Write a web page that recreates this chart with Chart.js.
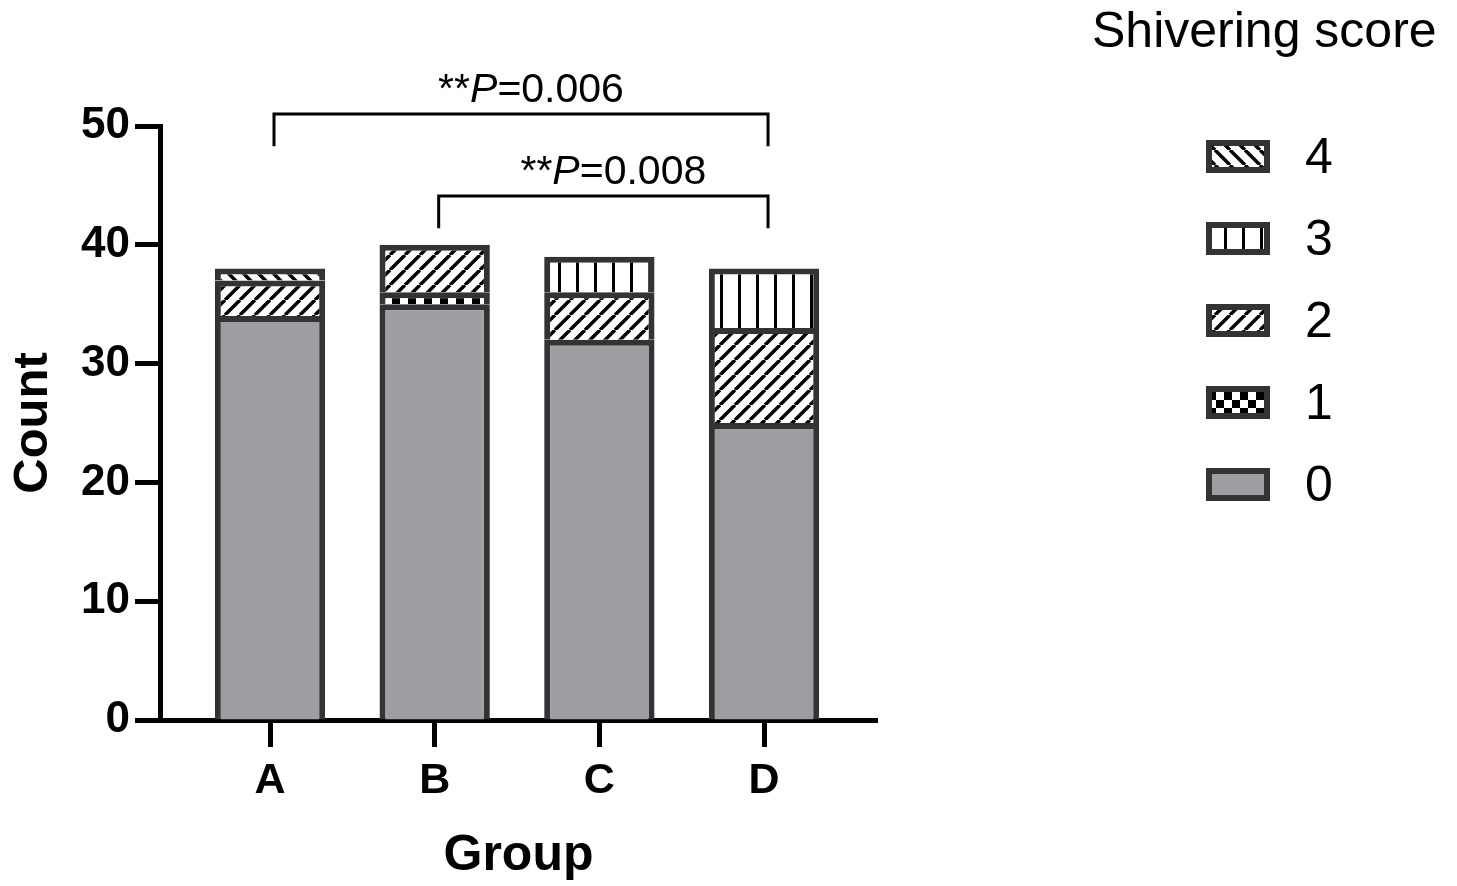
<!DOCTYPE html>
<html>
<head>
<meta charset="utf-8">
<title>Shivering score</title>
<script src="https://cdn.jsdelivr.net/npm/chart.js@4.4.1/dist/chart.umd.min.js"></script>
<style>
  html, body { margin: 0; padding: 0; background: #ffffff; }
  #wrap { width: 1457px; height: 886px; }
</style>
</head>
<body>
<div id="wrap">
  <canvas id="shiverChart" width="1457" height="886"></canvas>
</div>
<script>
/* =========================
DATA
========================= */

const groups = ["A", "B", "C", "D"];

const score0 = [34, 35, 32, 25];
const score1 = [0, 1, 0, 0];
const score2 = [3, 4, 4, 8];
const score3 = [0, 0, 3, 5];
const score4 = [1, 0, 0, 0];

const scoreLabels = ["0", "1", "2", "3", "4"];

const yTicks = [0, 10, 20, 30, 40, 50];

// significance pairs (group index from, to) and p values
const sigPairs = [[0, 3], [1, 3]];
const sigPValues = ["0.006", "0.008"];

/* =========================
STYLE
========================= */

const FONT = "'Liberation Sans', Arial, Helvetica, sans-serif";
const EDGE = "#333333";
const GREY = "#9e9ea2";

function makePattern(kind){

  const tile = document.createElement("canvas");
  const c = tile.getContext("2d");
  let s = 15;

  if(kind === "checker"){ s = 16; }
  if(kind === "vlines"){ s = 18; }

  tile.width = s;
  tile.height = s;

  c.fillStyle = "#ffffff";
  c.fillRect(0, 0, s, s);
  c.strokeStyle = "#000000";
  c.fillStyle = "#000000";

  if(kind === "slash" || kind === "backslash"){
    c.lineWidth = 3.5;
    c.beginPath();
    for(let k = -1; k <= 1; k++){
      if(kind === "slash"){
        c.moveTo(k * s, s);
        c.lineTo(k * s + s, 0);
      }else{
        c.moveTo(k * s, 0);
        c.lineTo(k * s + s, s);
      }
    }
    c.stroke();
  }

  if(kind === "vlines"){
    c.fillRect(0, 0, 3, s);
  }

  if(kind === "checker"){
    c.fillRect(0, 0, s / 2, s / 2);
    c.fillRect(s / 2, s / 2, s / 2, s / 2);
  }

  return c.createPattern(tile, "repeat");
}

const fills = [
  GREY,
  makePattern("checker"),
  makePattern("slash"),
  makePattern("vlines"),
  makePattern("backslash")
];

const seriesValues = [score0, score1, score2, score3, score4];

/* =========================
DATASETS
========================= */

const datasets = seriesValues.map(function(values, i){
  return {
    label: scoreLabels[i],
    data: values.map(function(v, j){ return { x: j, y: v }; }),
    backgroundColor: fills[i],
    borderColor: EDGE,
    borderWidth: { top: 6, left: 6, right: 6, bottom: 0 },
    borderSkipped: false,
    barPercentage: 0.67,
    categoryPercentage: 1
  };
});

/* =========================
PLUGIN : brackets + legend
========================= */

const extrasPlugin = {

  id: "extras",

  afterDraw(chart){

    const ctx = chart.ctx;
    const xs = chart.scales.x;
    const ys = chart.scales.y;

    ctx.save();

    // significance brackets
    const levels = [[51, 48.3], [44.1, 41.4]];

    sigPairs.forEach(function(pair, i){

      const x1 = xs.getPixelForValue(pair[0]) + 4;
      const x2 = xs.getPixelForValue(pair[1]) + 4;
      const yTop = ys.getPixelForValue(levels[i][0]);
      const yEnd = ys.getPixelForValue(levels[i][1]);

      ctx.strokeStyle = "#000000";
      ctx.lineWidth = 3;
      ctx.lineCap = "butt";
      ctx.lineJoin = "miter";
      ctx.beginPath();
      ctx.moveTo(x1, yEnd);
      ctx.lineTo(x1, yTop);
      ctx.lineTo(x2, yTop);
      ctx.lineTo(x2, yEnd);
      ctx.stroke();

      // label: **P=value with italic P
      const partA = "**";
      const partB = "P";
      const partC = "=" + sigPValues[i];

      ctx.fillStyle = "#000000";
      ctx.textBaseline = "alphabetic";
      ctx.textAlign = "left";

      ctx.font = "41px " + FONT;
      const wA = ctx.measureText(partA).width;
      const wC = ctx.measureText(partC).width;
      ctx.font = "italic 41px " + FONT;
      const wB = ctx.measureText(partB).width;

      const total = wA + wB + wC;
      let tx = (x1 + x2) / 2 + 10 - total / 2;
      const ty = yTop - 12;

      ctx.font = "41px " + FONT;
      ctx.fillText(partA, tx, ty);
      tx += wA;
      ctx.font = "italic 41px " + FONT;
      ctx.fillText(partB, tx, ty);
      tx += wB;
      ctx.font = "41px " + FONT;
      ctx.fillText(partC, tx, ty);
    });

    // legend
    ctx.font = "50px " + FONT;
    ctx.fillStyle = "#000000";
    ctx.textAlign = "left";
    ctx.textBaseline = "alphabetic";
    ctx.fillText("Shivering score", 1092, 47);

    const order = chart.data.datasets.slice().reverse();

    order.forEach(function(ds, i){

      const cy = 156 + i * 82;
      const bx = 1206;
      const by = cy - 16;
      const bw = 64;
      const bh = 33;

      ctx.fillStyle = ds.borderColor;
      ctx.fillRect(bx, by, bw, bh);
      ctx.fillStyle = ds.backgroundColor;
      ctx.fillRect(bx + 6, by + 6, bw - 12, bh - 12);

      ctx.fillStyle = "#000000";
      ctx.font = "50px " + FONT;
      ctx.fillText(ds.label, 1305, cy + 17);
    });

    ctx.restore();
  }

};

/* =========================
CHART
========================= */

const chart = new Chart(
  document.getElementById("shiverChart"),
  {
    type: "bar",
    data: { datasets: datasets },
    options: {
      responsive: false,
      animation: false,
      layout: {
        padding: { top: 126, right: 580, bottom: 0, left: 0 }
      },
      plugins: {
        legend: { display: false },
        tooltip: { enabled: false }
      },
      scales: {
        x: {
          type: "linear",
          stacked: true,
          offset: false,
          min: -0.668,
          max: 3.686,
          afterFit(scale){ scale.height = 166; },
          afterBuildTicks(scale){
            scale.ticks = groups.map(function(g, i){ return { value: i }; });
          },
          ticks: {
            stepSize: 1,
            includeBounds: false,
            autoSkip: false,
            maxRotation: 0,
            padding: 8,
            color: "#000000",
            font: { family: FONT, size: 43, weight: "bold" },
            callback(value){ return groups[value]; }
          },
          grid: {
            display: true,
            offset: false,
            drawOnChartArea: false,
            drawTicks: true,
            tickLength: 27,
            tickWidth: 5,
            tickColor: "#000000"
          },
          border: { display: true, width: 5, color: "#000000" },
          title: {
            display: true,
            text: "Group",
            color: "#000000",
            padding: { top: 0, bottom: 0 },
            font: { family: FONT, size: 50, weight: "bold" }
          }
        },
        y: {
          stacked: true,
          min: 0,
          max: 50,
          afterFit(scale){ scale.width = 160; },
          afterBuildTicks(scale){
            scale.ticks = yTicks.map(function(v){ return { value: v }; });
          },
          ticks: {
            padding: 5,
            color: "#000000",
            font: { family: FONT, size: 44, weight: "bold" }
          },
          grid: {
            display: true,
            drawOnChartArea: false,
            drawTicks: true,
            tickLength: 25,
            tickWidth: 5,
            tickColor: "#000000"
          },
          border: { display: true, width: 5, color: "#000000" },
          title: {
            display: true,
            text: "Count",
            color: "#000000",
            padding: { top: 4, bottom: 0 },
            font: { family: FONT, size: 49, weight: "bold" }
          }
        }
      }
    },
    plugins: [extrasPlugin]
  }
);
</script>
</body>
</html>
